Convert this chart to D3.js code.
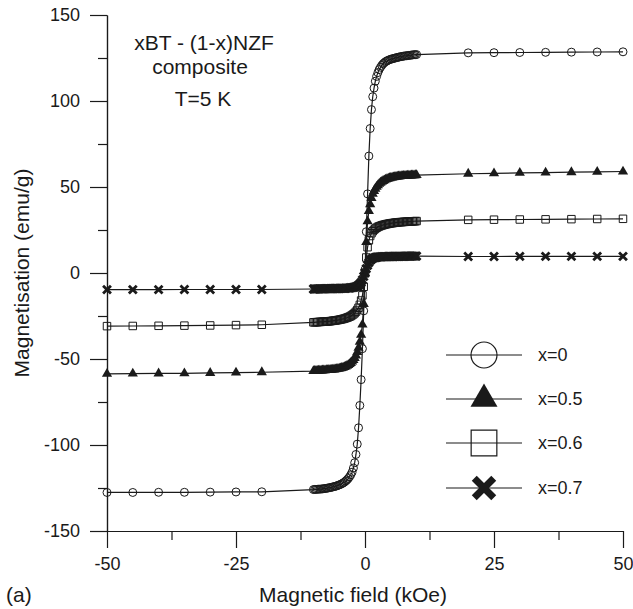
<!DOCTYPE html>
<html>
<head>
<meta charset="utf-8">
<script src="https://cdn.jsdelivr.net/npm/d3@7"></script>
<style>
  body { margin: 0; background: #fff; }
  svg { display: block; font-family: "Liberation Sans", Arial, sans-serif; }
</style>
</head>
<body>
<div id="chart"></div>
<script>
// field values (kOe) shared by every series
const field = [
  -50, -45, -40, -35, -30, -25, -20,
  -10, -9.75, -9.5, -9.25,
  -9, -8.75, -8.5, -8.25,
  -8, -7.75, -7.5, -7.25,
  -7, -6.75, -6.5, -6.25,
  -6, -5.75, -5.5, -5.25,
  -5, -4.75, -4.5, -4.25,
  -4, -3.75, -3.5, -3.25,
  -3, -2.75, -2.5, -2.25,
  -2, -1.75, -1.5, -1.25,
  -1, -0.75, -0.5, -0.25,
  0, 0.25, 0.5, 0.75,
  1, 1.25, 1.5, 1.75,
  2, 2.25, 2.5, 2.75,
  3, 3.25, 3.5, 3.75,
  4, 4.25, 4.5, 4.75,
  5, 5.25, 5.5, 5.75,
  6, 6.25, 6.5, 6.75,
  7, 7.25, 7.5, 7.75,
  8, 8.25, 8.5, 8.75,
  9, 9.25, 9.5, 9.75,
  10,
  20, 25, 30, 35, 40, 45, 50
];

// magnetisation (emu/g), one value per field point
const magX0 = [
  -127.6, -127.6, -127.5, -127.5, -127.4, -127.3, -127.2,
  -125.9, -125.85, -125.8, -125.75,
  -125.7, -125.65, -125.6, -125.5,
  -125.4, -125.3, -125.2, -125.05,
  -124.9, -124.75, -124.6, -124.4,
  -124.2, -124.0, -123.8, -123.5,
  -123.2, -122.9, -122.5, -122.1,
  -121.6, -121.0, -120.3, -119.5,
  -118.5, -117.3, -115.8, -113.4,
  -110.3, -105.5, -99.5, -90,
  -77, -62, -44, -22,
  2, 24, 46, 68,
  84, 95, 102.5, 107.5,
  111.5, 114.3, 116.5, 118.3,
  119.6, 120.7, 121.6, 122.3,
  122.9, 123.3, 123.7, 124.0,
  124.3, 124.5, 124.7, 124.9,
  125.1, 125.3, 125.5, 125.65,
  125.8, 125.95, 126.1, 126.2,
  126.3, 126.4, 126.5, 126.6,
  126.7, 126.8, 126.9, 126.95,
  127.0,
  128.0, 128.1, 128.2, 128.3, 128.4, 128.5, 128.6
];
const magX05 = [
  -58.6, -58.5, -58.4, -58.3, -58.1, -57.9, -57.7,
  -57.0, -56.95, -56.9, -56.85,
  -56.8, -56.75, -56.7, -56.65,
  -56.6, -56.55, -56.5, -56.45,
  -56.4, -56.35, -56.3, -56.2,
  -56.1, -56.0, -55.9, -55.75,
  -55.6, -55.4, -55.2, -55.0,
  -54.7, -54.4, -54.0, -53.5,
  -53.0, -52.3, -51.5, -50.6,
  -49.5, -48.0, -46.0, -43.5,
  -40.0, -36, -30, -18,
  0, 18, 30, 36,
  40, 43.5, 46, 47.7,
  49, 50.1, 51, 51.8,
  52.5, 53.0, 53.5, 53.9,
  54.3, 54.6, 54.9, 55.1,
  55.3, 55.45, 55.6, 55.75,
  55.9, 56.0, 56.1, 56.2,
  56.3, 56.35, 56.4, 56.45,
  56.5, 56.55, 56.6, 56.65,
  56.7, 56.75, 56.8, 56.85,
  56.9,
  57.7, 57.9, 58.2, 58.4, 58.6, 58.8, 59.0
];
const magX06 = [
  -30.9, -30.8, -30.7, -30.6, -30.5, -30.3, -30.1,
  -28.7, -28.65, -28.6, -28.55,
  -28.5, -28.45, -28.4, -28.35,
  -28.3, -28.25, -28.2, -28.15,
  -28.1, -28.0, -27.9, -27.8,
  -27.7, -27.6, -27.5, -27.35,
  -27.2, -27.05, -26.9, -26.7,
  -26.5, -26.25, -26.0, -25.7,
  -25.4, -25.0, -24.5, -24.0,
  -23.3, -22.5, -21.5, -20.2,
  -18.5, -16, -13, -8,
  0, 9, 15, 19,
  21.5, 23.1, 24.3, 25.1,
  25.8, 26.3, 26.8, 27.1,
  27.4, 27.65, 27.9, 28.1,
  28.3, 28.45, 28.6, 28.75,
  28.9, 29.0, 29.1, 29.2,
  29.3, 29.4, 29.5, 29.55,
  29.6, 29.65, 29.7, 29.75,
  29.8, 29.85, 29.9, 29.95,
  30.0, 30.05, 30.1, 30.15,
  30.2,
  30.9, 31.0, 31.1, 31.2, 31.3, 31.4, 31.5
];
const magX07 = [
  -9.7, -9.7, -9.7, -9.6, -9.6, -9.6, -9.6,
  -9.3, -9.3, -9.3, -9.25,
  -9.2, -9.2, -9.2, -9.2,
  -9.2, -9.15, -9.1, -9.1,
  -9.1, -9.1, -9.1, -9.05,
  -9.0, -9.0, -9.0, -9.0,
  -9.0, -8.95, -8.9, -8.9,
  -8.9, -8.85, -8.8, -8.75,
  -8.7, -8.6, -8.5, -8.35,
  -8.2, -7.95, -7.6, -7.1,
  -6.5, -5.5, -4, -2,
  0, 2.5, 4.5, 6,
  7.3, 8.0, 8.5, 8.8,
  9.0, 9.15, 9.3, 9.35,
  9.4, 9.45, 9.5, 9.5,
  9.5, 9.55, 9.6, 9.6,
  9.6, 9.6, 9.6, 9.65,
  9.7, 9.7, 9.7, 9.7,
  9.7, 9.7, 9.7, 9.75,
  9.8, 9.8, 9.8, 9.8,
  9.8, 9.8, 9.8, 9.8,
  9.8,
  9.6, 9.6, 9.7, 9.7, 9.7, 9.7, 9.7
];

const seriesLabels = ["x=0", "x=0.5", "x=0.6", "x=0.7"];
const seriesValues = [magX0, magX05, magX06, magX07];

const xTicks = [-50, -25, 0, 25, 50];
const xMinor = [-37.5, -12.5, 12.5, 37.5];
const yTicks = [-150, -100, -50, 0, 50, 100, 150];
const yMinor = [-125, -75, -25, 25, 75, 125];

const notes = ["xBT - (1-x)NZF", "composite", "T=5 K"];

const width = 633, height = 609;
const ink = "#1a1a1a";

const svg = d3.select("#chart").append("svg")
    .attr("width", width)
    .attr("height", height);

const x = d3.scaleLinear().domain([-50, 50]).range([107, 623]);
const y = d3.scaleLinear().domain([-150, 150]).range([531, 15]);

// axes: major ticks with labels, minor ticks shorter
svg.append("g")
    .attr("transform", `translate(${x(-50)},0)`)
    .call(d3.axisLeft(y).tickValues(yTicks).tickSize(17).tickSizeOuter(0).tickPadding(10).tickFormat(d => String(d)));
svg.append("g")
    .attr("transform", `translate(${x(-50)},0)`)
    .call(d3.axisLeft(y).tickValues(yMinor).tickSize(9).tickSizeOuter(0).tickFormat(""));

svg.append("g")
    .attr("transform", `translate(0,${y(-150)})`)
    .call(d3.axisBottom(x).tickValues(xTicks).tickSize(17).tickSizeOuter(0).tickPadding(9).tickFormat(d => String(d)));
svg.append("g")
    .attr("transform", `translate(0,${y(-150)})`)
    .call(d3.axisBottom(x).tickValues(xMinor).tickSize(9).tickSizeOuter(0).tickFormat(""));

svg.selectAll(".domain, .tick line").attr("stroke", ink).attr("stroke-width", 1.2);
svg.selectAll(".tick text")
    .attr("fill", ink)
    .style("font-size", "18px")
    .style("font-family", "'Liberation Sans', Arial, sans-serif");

// axis titles
svg.append("text")
    .attr("x", 353).attr("y", 602)
    .attr("text-anchor", "middle")
    .attr("fill", ink)
    .style("font-size", "21px")
    .text("Magnetic field (kOe)");

svg.append("text")
    .attr("transform", `translate(29,${y(0)}) rotate(-90)`)
    .attr("text-anchor", "middle")
    .attr("fill", ink)
    .style("font-size", "21px")
    .text("Magnetisation (emu/g)");

svg.append("text")
    .attr("x", 6).attr("y", 602)
    .attr("fill", ink)
    .style("font-size", "21px")
    .text("(a)");

// annotations
const noteY = [50, 74, 106];
const noteX = [204, 200, 203];
notes.forEach((t, i) => {
    svg.append("text")
        .attr("x", noteX[i]).attr("y", noteY[i])
        .attr("text-anchor", "middle")
        .attr("fill", ink)
        .style("font-size", "21px")
        .text(t);
});

// marker shapes
const markers = [
    { type: d3.symbolCircle, size: 50, fill: "none", sw: 1 },
    { type: d3.symbolTriangle, size: 45, fill: ink, sw: 0 },
    { type: d3.symbolSquare, size: 56, fill: "none", sw: 1 },
    { type: d3.symbolTimes, size: 42, fill: "none", sw: 2.8 }
];
const legendMarkers = [
    { type: d3.symbolCircle, size: 530, fill: "none", sw: 1.2 },
    { type: d3.symbolTriangle, size: 315, fill: ink, sw: 0 },
    { type: d3.symbolSquare, size: 660, fill: "none", sw: 1.2 },
    { type: d3.symbolTimes, size: 250, fill: "none", sw: 7 }
];

const line = d3.line().x(d => x(d[0])).y(d => y(d[1]));

seriesValues.forEach((vals, s) => {
    const pts = field.map((h, i) => [h, vals[i]]);
    const g = svg.append("g");

    g.append("path")
        .datum(pts)
        .attr("d", line)
        .attr("fill", "none")
        .attr("stroke", ink)
        .attr("stroke-width", 1.2);

    const m = markers[s];
    g.selectAll("path.mk")
        .data(pts)
        .join("path")
        .attr("class", "mk")
        .attr("transform", d => `translate(${x(d[0])},${y(d[1])})`)
        .attr("d", d3.symbol(m.type, m.size))
        .attr("fill", m.fill)
        .attr("stroke", m.sw ? ink : "none")
        .attr("stroke-width", m.sw);
});

// legend
const legendY = [355, 399, 443, 488];
seriesLabels.forEach((lab, i) => {
    const g = svg.append("g").attr("transform", `translate(0,${legendY[i]})`);
    g.append("line")
        .attr("x1", 446).attr("x2", 522)
        .attr("stroke", ink).attr("stroke-width", 1.2);
    const m = legendMarkers[i];
    g.append("path")
        .attr("transform", "translate(484,0)")
        .attr("d", d3.symbol(m.type, m.size))
        .attr("fill", m.fill)
        .attr("stroke", m.sw ? ink : "none")
        .attr("stroke-width", m.sw);
    g.append("text")
        .attr("x", 538).attr("y", 0)
        .attr("dy", "0.36em")
        .attr("fill", ink)
        .style("font-size", "18px")
        .text(lab);
});
</script>
</body>
</html>
